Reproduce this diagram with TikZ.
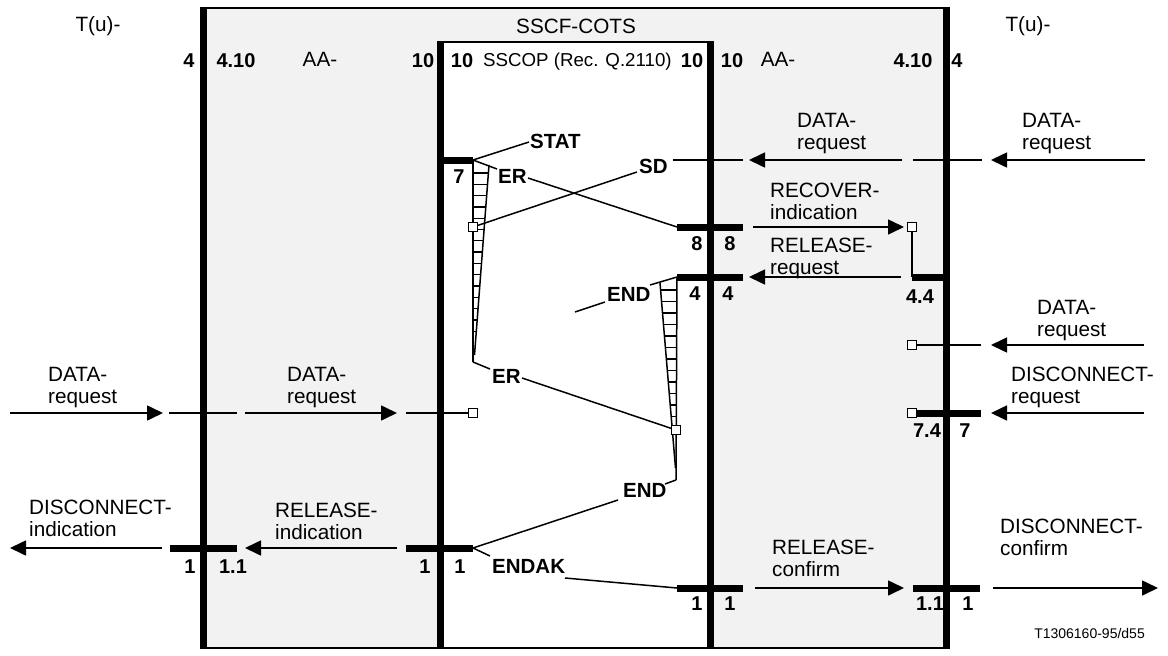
\documentclass[tikz,border=0pt]{standalone}
\usepackage{fontspec}
\setmainfont{Liberation Sans}
\usetikzlibrary{arrows.meta}
\definecolor{boxgrey}{HTML}{F2F2F2}
\begin{document}
\begin{tikzpicture}[x=1pt,y=-1pt,
  conn/.style={line width=1.5pt},
  arr/.style={line width=1.6pt,-{Triangle[length=16pt,width=15pt]}},
  layer/.style={line width=7pt},
  barst/.style={line width=7pt},
  boxline/.style={line width=2.2pt},
  hatch/.style={line width=1.3pt},
  sq/.style={draw,fill=white,line width=1pt,minimum size=9pt,inner sep=0pt,rectangle},
  txt/.style={font=\fontsize{20.7}{22}\selectfont,inner sep=0pt},
  lbl/.style={txt,align=left,anchor=north west,execute at begin node=\strut},
  num/.style={font=\bfseries\fontsize{20}{22}\selectfont,inner sep=0pt,anchor=base},
  pdu/.style={font=\bfseries\fontsize{20.5}{22}\selectfont,inner sep=0pt,anchor=base west}]
\useasboundingbox (0,0) rectangle (1168,656);

% ---------- boxes ----------
\coordinate (oTL) at (203,8);
\coordinate (oBR) at (946,648);
\coordinate (iTL) at (440,42);
\coordinate (iBR) at (710,648);
\fill[boxgrey] (oTL) rectangle (oBR);
\fill[white] (iTL) rectangle (iBR);

% ---------- coordinates ----------
% row 160
\coordinate (sdR) at (673,160);
\coordinate (s160e) at (743,160);
\coordinate (a160s) at (902,160);
\coordinate (a160t) at (749,160);
\coordinate (t160s) at (913,160);
\coordinate (t160e) at (982,160);
\coordinate (b160s) at (1145,160);
\coordinate (b160t) at (991,160);
% row 227
\coordinate (a227s) at (753,227);
\coordinate (a227t) at (904,227);
% row 277
\coordinate (a277s) at (901,277);
\coordinate (a277t) at (749,277);
% row 345
\coordinate (l345e) at (981,345);
\coordinate (a345s) at (1144,345);
\coordinate (a345t) at (991,345);
% row 413 right
\coordinate (b74e) at (981,413);
\coordinate (a413s) at (1144,413);
\coordinate (a413t) at (991,413);
% row 413 left
\coordinate (a413Ls) at (10,413);
\coordinate (a413Lt) at (163,413);
\coordinate (s413Ls) at (169,413);
\coordinate (s413Le) at (237,413);
\coordinate (a413Ms) at (245,413);
\coordinate (a413Mt) at (397,413);
\coordinate (s413Ms) at (406,413);
% row 548
\coordinate (a548Ls) at (162,548);
\coordinate (a548Lt) at (10,548);
\coordinate (a548Ms) at (397,548);
\coordinate (a548Mt) at (245,548);
% row 588
\coordinate (a588s) at (755,588);
\coordinate (a588t) at (904,588);
\coordinate (a588Rs) at (993,588);
\coordinate (a588Rt) at (1158,588);
% bars
\coordinate (b7w) at (440,160);  \coordinate (b7e) at (473,160);
\coordinate (b8w) at (677,227);  \coordinate (b8e) at (743,227);
\coordinate (b4w) at (677,277);  \coordinate (b4e) at (743,277);
\coordinate (b44w) at (912,277); \coordinate (b44e) at (946,277);
\coordinate (b1Lw) at (170,548); \coordinate (b1Le) at (237,548);
\coordinate (b1Mw) at (406,548); \coordinate (b1Me) at (473,548);
\coordinate (b1Rw) at (677,588); \coordinate (b1Re) at (743,588);
\coordinate (b11w) at (913,588); \coordinate (b11e) at (980,588);
% PDU line ends
\coordinate (statW) at (529,142);
\coordinate (er1W) at (497,169);
\coordinate (er1E) at (528,178);
\coordinate (sdW) at (637,172);
\coordinate (w1bot) at (473,362);
\coordinate (er2W) at (490,369);
\coordinate (er2E) at (522,378);
\coordinate (end1E) at (650,285);
\coordinate (end1W) at (605,302);
\coordinate (dang) at (575,312);
\coordinate (w2bot) at (676,480);
\coordinate (end2N) at (665,484);
\coordinate (end2W) at (618,500);
\coordinate (endakW) at (490,556);
\coordinate (endakE) at (565,578);

% ---------- hatched wedges ----------
\foreach \yy in {173,184.3,...,335} {
  \draw[hatch] (473,\yy) -- ({489-(\yy-165)*14.5/190},\yy);
}
\draw[conn] (489,165) -- (474.5,355);
\draw[conn] (b7e) -- (w1bot);
\foreach \yy in {290,301.5,...,426} {
  \draw[hatch] (676,\yy) -- ({660+(\yy-283)*15/185},\yy);
}
\draw[conn] (660,283) -- (675.5,468);
\draw[conn] (b4w) -- (w2bot);

% ---------- connectors ----------
\draw[conn] (sdR) -- (s160e);
\draw[arr] (a160s) -- (a160t);
\draw[conn] (t160s) -- (t160e);
\draw[arr] (b160s) -- (b160t);
\draw[arr] (a227s) -- (a227t);
\draw[arr] (a277s) -- (a277t);
\draw[arr] (a345s) -- (a345t);
\draw[arr] (a413s) -- (a413t);
\draw[arr] (a413Ls) -- (a413Lt);
\draw[conn] (s413Ls) -- (s413Le);
\draw[arr] (a413Ms) -- (a413Mt);
\draw[arr] (a548Ls) -- (a548Lt);
\draw[arr] (a548Ms) -- (a548Mt);
\draw[arr] (a588s) -- (a588t);
\draw[arr] (a588Rs) -- (a588Rt);

% PDU lines
\draw[conn] (b7e) -- (statW);
\draw[conn] (b7e) -- (er1W);
\draw[conn] (er1E) -- (b8w);
\draw[conn] (w1bot) -- (er2W);
\draw[conn] (end1E) -- (b4w);
\draw[conn] (dang) -- (end1W);
\draw[conn] (w2bot) -- (end2N);
\draw[conn] (end2W) -- (b1Me);
\draw[conn] (b1Me) -- (endakW);
\draw[conn] (endakE) -- (b1Rw);

% ---------- box borders and layer lines ----------
\draw[boxline] (oTL) -- (oTL -| oBR);
\draw[boxline] (oTL |- oBR) -- (oBR);
\draw[boxline] (iTL) -- (iTL -| iBR);
\draw[layer] (203,7) -- (203,649);
\draw[layer] (946,7) -- (946,649);
\draw[layer] (440,41) -- (440,649);
\draw[layer] (710,41) -- (710,649);

% ---------- bars ----------
\draw[barst] (b7w) -- (b7e);
\draw[barst] (b8w) -- (b8e);
\draw[barst] (b4w) -- (b4e);
\draw[barst] (b44w) -- (b44e);
\draw[barst] (b1Lw) -- (b1Le);
\draw[barst] (b1Mw) -- (b1Me);
\draw[barst] (b1Rw) -- (b1Re);
\draw[barst] (b11w) -- (b11e);

% ---------- squares ----------
\node[sq] (sqA) at (473,227) {};
\node[sq] (sqB) at (676,430) {};
\node[sq] (sqC) at (912,227) {};
\node[sq] (sqD) at (912,345) {};
\node[sq] (sqE) at (912,413) {};
\node[sq] (sqF) at (473,413) {};
\draw[conn] (sqA) -- (sdW);
\draw[conn] (er2E) -- (sqB);
\draw[conn] (sqC) -- (b44w);
\draw[conn] (sqD) -- (l345e);
\draw[barst] (sqE.east) -- (b74e);
\draw[conn] (s413Ms) -- (sqF);

% ---------- header texts ----------
\node[txt,anchor=base] (tuL) at (98,31) {T(u)-};
\node[txt,anchor=base] (tuR) at (1028,31) {T(u)-};
\node[txt,anchor=base] (sscf) at (576,33) {SSCF-COTS};
\node[num] (n4L) at (189,67) {4};
\node[num] (n410L) at (236,67) {4.10};
\node[txt,anchor=base] (aaL) at (320,66) {AA-};
\node[num] (n10a) at (423,67) {10};
\node[num] (n10b) at (462,67) {10};
\node[font=\fontsize{18.7}{22}\selectfont,inner sep=0pt,anchor=base west] (sscop) at (483,66) {SSCOP (Rec. Q.2110)};
\node[num] (n10c) at (692,67) {10};
\node[num] (n10d) at (732,67) {10};
\node[txt,anchor=base] (aaR) at (778,66) {AA-};
\node[num] (n410R) at (913,67) {4.10};
\node[num] (n4R) at (957,67) {4};

% ---------- PDU labels ----------
\node[pdu] (stat) at (530,148) {STAT};
\node[pdu] (er1) at (498,183) {ER};
\node[pdu] (sd) at (639,173) {SD};
\node[pdu] (end1) at (607,301) {END};
\node[pdu] (er2) at (492,383) {ER};
\node[pdu] (end2) at (623,497) {END};
\node[pdu] (endak) at (492,573) {ENDAK};

% ---------- state numbers ----------
\node[num] (n7) at (459,183) {7};
\node[num] (n8a) at (697,250) {8};
\node[num] (n8b) at (730,250) {8};
\node[num] (n4a) at (695,300) {4};
\node[num] (n4b) at (728,300) {4};
\node[num] (n44) at (920,303) {4.4};
\node[num] (n74) at (927,437) {7.4};
\node[num] (n7r) at (965,437) {7};
\node[num] (n1a) at (190,573) {1};
\node[num] (n11a) at (233,573) {1.1};
\node[num] (n1b) at (425,573) {1};
\node[num] (n1c) at (460,573) {1};
\node[num] (n1d) at (697,610) {1};
\node[num] (n1e) at (730,610) {1};
\node[num] (n11b) at (930,610) {1.1};
\node[num] (n1f) at (968,610) {1};

% ---------- primitive labels ----------
\node[lbl] (drqA) at (797,112.6) {DATA-\\request};
\node[lbl] (drqB) at (1022,112.6) {DATA-\\request};
\node[lbl] (recind) at (770,182.6) {RECOVER-\\indication};
\node[lbl] (relreq) at (770,237.6) {RELEASE-\\request};
\node[lbl] (drqC) at (1037,299.6) {DATA-\\request};
\node[lbl] (discreq) at (1011,366.6) {DISCONNECT-\\request};
\node[lbl] (drqD) at (48,366.6) {DATA-\\request};
\node[lbl] (drqE) at (287,366.6) {DATA-\\request};
\node[lbl] (discind) at (29,499.6) {DISCONNECT-\\indication};
\node[lbl] (relind) at (275,502.6) {RELEASE-\\indication};
\node[lbl] (relconf) at (772,539.6) {RELEASE-\\confirm};
\node[lbl] (discconf) at (1000,518.6) {DISCONNECT-\\confirm};

\node[font=\fontsize{14}{16}\selectfont,inner sep=0pt,anchor=base east] (code) at (1145,638) {T1306160-95/d55};
\end{tikzpicture}
\end{document}
